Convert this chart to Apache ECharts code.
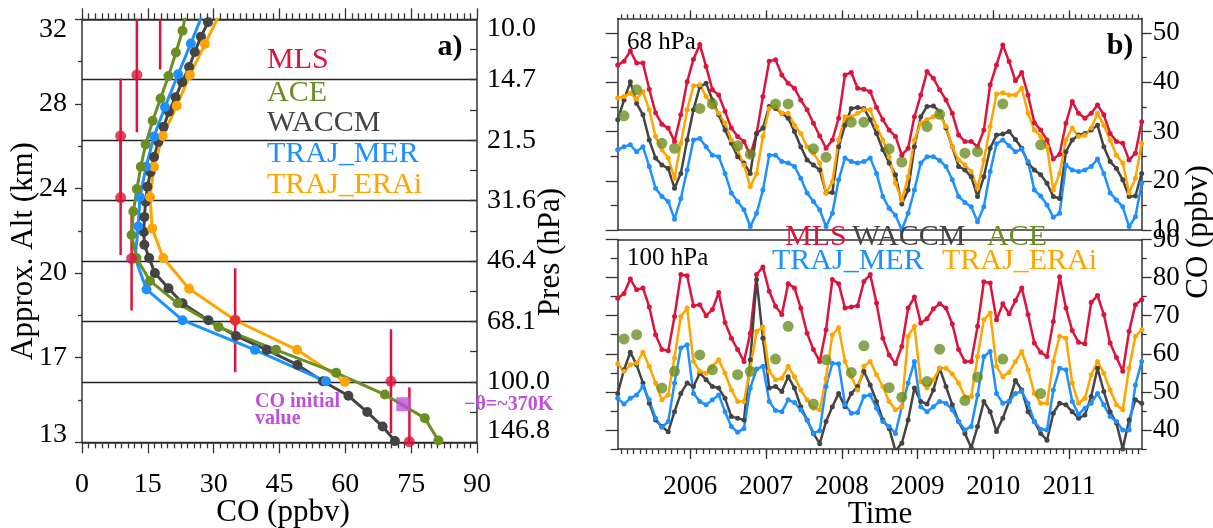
<!DOCTYPE html>
<html><head><meta charset="utf-8">
<script src="https://cdn.jsdelivr.net/npm/echarts@6/dist/echarts.min.js"></script>
<style>html,body{margin:0;padding:0;background:#fff}#c{width:1213px;height:528px}</style>
</head><body><div id="c"></div>
<script>
// ===== Panel a) : vertical profiles (y = pressure-level index, 0 = 146.8 hPa ... 7 = 10.0 hPa) =====
const presLabels = ['146.8','100.0','68.1','46.4','31.6','21.5','14.7','10.0'];
const altLabels = ['13','17','20','24','28','32'];

const mlsCO  = [74.6, 70.4, 34.9, 11.3, 8.8, 8.8, 12.5, 17.8];
const mlsLev = [0.01, 1.01, 2.02, 3.04, 4.05, 5.07, 6.08, 7.09];
const mlsErr = [0.9, 0.86, 0.86, 0.86, 0.95, 0.95, 0.95, 0.92];

const aceLev = [0.03,0.40,0.79,1.15,1.53,1.91,2.30,2.67,3.05,3.43,3.82,4.19,4.56,4.93,5.32,5.69,6.06,6.45,6.81,7.19];
const aceCO  = [81.2,78.1,69.0,57.9,44.2,31.1,21.8,15.5,12.4,11.3,11.7,12.5,13.4,14.5,16.1,17.9,19.7,21.4,22.9,23.9];

const waccmLev = [0.02,0.26,0.50,0.77,1.01,1.28,1.53,1.76,2.02,2.30,2.55,2.80,3.05,3.27,3.48,3.73,3.98,4.23,4.47,4.72,4.97,5.22,5.47,5.71,5.96,6.21,6.46,6.71,6.95,7.20];
const waccmCO  = [71.3,68.5,65.0,60.7,54.9,49.1,42.1,35.1,28.8,22.9,19.7,16.6,15.3,14.2,14.1,14.2,14.5,14.9,15.6,16.4,17.4,18.6,19.8,21.3,22.8,24.4,25.7,27.1,28.7,30.3];

const merLev = [1.01,1.53,2.02,2.53,3.05,3.57,4.06,4.56,5.06,5.55,6.09,6.60,7.11];
const merCO  = [55.6,39.4,22.9,14.7,12.1,12.8,13.2,14.6,16.4,18.9,21.9,24.8,27.6];

const eraLev = [1.00,1.53,2.02,2.54,3.05,3.54,4.06,4.56,5.07,5.57,6.08,6.59,7.09];
const eraCO  = [59.9,49.0,34.9,24.4,18.5,16.0,15.5,16.4,18.4,21.6,24.6,28.0,31.4];

const initCO = [73.2];
const initLev = [0.63];

// ===== Panel b) : monthly time series Jan 2005 - Dec 2011 =====
const yearTicks = [2006,2007,2008,2009,2010,2011];
const months = Array.from({length:84}, (_, i) => 2005 + (i + 0.5) / 12);
const monthTicks = Array.from({length:83}, (_, i) => 2005 + (i + 1) / 12);

const mls68 = [43.5,44.3,46.4,43.9,43.9,38.6,33.8,31.5,30.7,28.0,33.4,40.1,44.7,47.7,43.2,38.5,37.4,34.1,30.7,29.0,28.0,25.2,29.6,37.1,44.3,44.6,41.5,39.8,38.8,36.4,34.4,31.7,29.1,26.6,28.3,32.7,41.5,42.0,38.8,38.6,38.1,34.9,32.4,30.3,29.0,
 25.2,26.6,33.0,37.4,42.2,40.8,38.5,36.4,33.7,29.3,28.0,28.0,26.9,30.3,39.5,43.5,47.6,44.2,40.3,42.0,37.4,31.8,30.3,28.3,24.4,25.4,31.7,36.1,33.7,32.7,33.7,35.4,33.4,29.6,28.0,27.6,24.2,25.6,32.0];
const waccm68 = [32.4,36.4,40.1,35.7,33.4,28.3,24.6,23.2,22.5,18.5,21.5,28.3,34.4,39.1,39.8,36.4,33.4,30.3,27.6,24.9,23.6,21.5,29.6,30.7,35.1,34.7,33.7,32.7,30.0,26.9,24.2,23.2,22.2,17.5,17.6,26.9,31.3,34.7,34.9,34.7,32.4,29.6,26.3,23.6,21.2,
 15.3,18.1,26.9,33.0,35.1,35.2,34.1,30.7,26.9,22.9,22.2,20.8,16.8,20.8,26.6,29.3,29.5,30.0,28.4,26.6,23.6,22.2,21.2,19.5,16.8,16.4,25.9,28.3,29.3,29.6,30.3,31.3,26.9,23.9,22.5,20.2,16.8,16.9,21.5];
const mer68 = [26.3,26.9,27.3,25.9,26.9,22.9,18.5,16.8,15.8,12.2,16.4,22.2,28.3,28.6,26.9,25.2,24.9,21.5,17.5,15.8,14.1,10.7,13.4,18.1,25.2,25.2,23.9,23.6,22.9,20.5,17.5,15.8,14.1,10.7,13.4,20.2,24.6,23.9,23.6,23.9,24.6,21.5,16.8,14.4,13.0,
 10.0,13.4,18.1,23.6,24.9,24.9,24.1,22.9,20.2,16.8,15.6,14.7,11.7,14.7,21.9,27.5,28.3,27.1,25.9,26.4,23.9,18.1,16.9,15.1,12.6,13.4,23.2,22.2,21.9,22.2,22.9,24.4,21.5,17.5,16.1,14.7,10.7,12.7,19.5];
const era68 = [36.8,37.1,37.8,36.6,38.1,34.4,29.0,26.3,24.6,20.5,27.6,34.4,39.3,39.5,37.1,35.4,33.7,31.7,28.3,26.3,23.2,18.8,21.5,29.0,34.7,35.1,33.7,33.7,31.3,29.6,26.9,25.6,23.6,17.5,19.8,28.3,33.0,33.0,33.7,34.4,34.4,31.0,28.3,24.9,19.5,
 16.1,20.8,28.3,31.7,32.4,33.0,33.4,31.0,26.9,24.2,23.2,21.9,18.5,24.2,31.0,37.6,37.9,37.4,37.4,38.8,33.7,30.3,29.0,26.9,18.1,21.5,28.3,30.7,29.0,29.3,30.7,33.7,31.3,28.3,25.2,23.6,17.5,20.5,27.6];

const aceMonths = [1,3,7,9,13,15,19,21,25,27,31,33,37,39,43,45,49,51,55,57,61,67];
const ace68  = [33.2,38.5,27.6,26.6,34.7,35.6,27.1,25.4,35.6,35.6,26.5,24.8,31.9,31.9,26.5,23.8,31.0,33.5,25.6,25.9,35.6,27.3];
const ace100 = [63.9,65.0,51.0,55.4,59.7,55.8,54.5,55.4,58.6,67.2,46.8,58.4,55.1,62.1,51.1,48.6,52.7,61.2,47.7,53.9,58.6,49.6];

const mls100 = [74.6,75.8,79.6,76.8,77.3,72.3,65.0,61.1,60.8,69.8,80.8,80.5,72.6,72.9,70.0,71.6,76.1,68.2,64.1,61.1,58.0,65.4,80.8,82.8,76.4,72.5,70.3,78.4,77.3,72.0,65.4,61.1,58.0,66.3,79.5,78.4,72.0,72.3,72.6,79.0,80.8,73.3,64.1,59.7,57.4,
 61.9,72.0,74.9,68.1,69.2,71.8,73.1,72.0,67.8,61.1,58.0,58.0,67.2,78.9,78.6,68.9,73.1,70.5,74.0,77.3,70.3,62.8,60.4,59.3,68.5,80.2,72.0,66.1,63.0,62.6,73.5,75.3,70.3,62.8,59.0,55.4,65.9,72.9,74.2];
const waccm100 = [49.6,55.8,60.4,57.1,52.3,47.0,42.6,40.9,39.5,44.8,49.6,52.3,51.4,54.9,53.2,51.4,51.0,48.3,43.5,43.1,42.6,58.4,79.5,64.1,51.0,51.4,50.1,54.0,51.0,46.1,42.6,39.1,36.4,42.2,46.1,49.6,46.1,49.6,51.4,55.4,51.8,47.5,42.6,40.4,34.5,
 36.5,42.6,51.0,47.5,46.8,50.5,56.2,51.4,46.6,42.2,39.1,35.3,40.9,47.5,44.8,39.6,43.1,47.5,53.0,50.5,44.8,42.2,39.1,37.3,44.4,47.0,46.6,44.8,43.1,43.9,48.8,56.2,50.1,44.8,41.8,35.0,42.6,47.9,47.0];
const mer100 = [48.3,46.8,48.3,49.2,51.4,47.9,43.1,40.7,42.2,52.3,61.5,62.4,49.6,47.5,46.6,47.9,49.2,44.8,40.9,39.4,40.4,51.0,56.0,56.7,47.5,45.1,44.8,47.9,47.2,45.3,42.6,39.1,39.8,51.4,57.5,57.4,46.6,44.4,44.6,48.8,49.2,45.7,42.2,40.9,39.1,
 46.1,52.3,58.0,46.1,44.8,46.1,47.5,47.0,45.3,42.2,40.0,40.9,49.2,59.3,60.6,49.6,47.0,47.5,49.6,50.1,47.0,42.2,40.2,40.0,50.5,56.2,55.8,47.5,44.1,45.7,47.0,49.6,46.6,43.5,42.2,40.0,40.0,51.8,58.0];
const era100 = [57.4,55.4,57.1,57.5,60.4,56.7,52.3,47.9,49.2,58.9,69.8,72.0,58.0,55.4,54.9,56.7,58.4,54.9,50.5,47.5,47.5,56.2,65.9,67.0,55.4,53.2,53.6,56.7,54.0,50.5,47.9,45.7,45.3,53.6,65.0,66.8,58.0,54.0,50.5,56.7,58.0,54.5,51.4,47.5,45.3,
 46.1,64.6,67.2,52.7,51.0,53.2,56.2,56.2,54.7,52.3,48.8,48.8,59.3,68.9,70.7,56.7,54.0,55.1,58.0,60.6,55.8,49.6,47.0,47.0,58.0,64.6,64.1,52.3,47.0,48.3,54.5,58.0,54.9,50.5,46.6,45.3,56.2,64.6,66.3];

const top68Major = [10,20,30,40,50], top68Minor = [15,25,35,45];
const bot100Major = [40,50,60,70,80,90], bot100Minor = [35,45,55,65,75,85];

// ===== styling =====
const F = '"Liberation Serif","Times New Roman",serif';
const C = {mls:'#DC143C', ace:'#6B8E23', waccm:'#444444', mer:'#1E90FF', era:'#FFA500', init:'#BF4FDC'};
const AXL = {show:true, onZero:false, lineStyle:{color:'#333', width:1.5}};
const NOL = {show:false, onZero:false}, NOS = {show:false};
const TL = {color:'#333', width:1.3};
const TK = (len, extra) => Object.assign({show:true, length:len, lineStyle:TL}, extra || {});
const LAB = (extra) => Object.assign({fontFamily:F, fontSize:27, color:'#000'}, extra || {});
const T0 = 2005 + 0.5/12, T1 = 2011 + 11.5/12;

const pairs = (xs, ys) => xs.map((x, i) => [x, ys[i]]);
function prof(name, co, lev, color){
  return {type:'line', name, xAxisIndex:0, yAxisIndex:0, data:pairs(co, lev), symbol:'circle', symbolSize:10,
    showAllSymbol:true, lineStyle:{color, width:3}, itemStyle:{color}, clip:true, z:3};
}
function ts(vals, color, xi, yi){
  return {type:'line', xAxisIndex:xi, yAxisIndex:yi, data:pairs(months, vals), symbol:'circle', symbolSize:5,
    showAllSymbol:true, lineStyle:{color, width:2.5}, itemStyle:{color}, clip:true, z:3};
}
function aceDots(vals, xi, yi){
  return {type:'scatter', xAxisIndex:xi, yAxisIndex:yi, data:aceMonths.map((m, i) => [months[m], vals[i]]),
    symbol:'circle', symbolSize:11, itemStyle:{color:C.ace}, z:4};
}

const grids = [
  {left:82, top:19.3, width:395, height:423},
  {left:617.7, top:18.3, width:524, height:211.7},
  {left:617.7, top:18.3, width:524, height:211.7},
  {left:617.7, top:239.5, width:524, height:209.5},
  {left:617.7, top:239.5, width:524, height:209.5}
].map(g => Object.assign({containLabel:false, outerBoundsMode:'none'}, g));

const coMinor = {show:true, splitNumber:10, length:6, lineStyle:TL};

const option = {
  animation:false,
  backgroundColor:'#fff',
  grid:grids,
  xAxis:[
    {gridIndex:0, type:'value', position:'bottom', min:0, max:90, interval:15, axisLine:AXL, axisTick:TK(11), minorTick:coMinor,
      axisLabel:LAB({fontSize:28, margin:28}), splitLine:NOS},
    {gridIndex:0, type:'value', position:'top', min:0, max:90, interval:15, axisLine:AXL, axisTick:TK(11), minorTick:coMinor,
      axisLabel:{show:false}, splitLine:NOS},
    {gridIndex:1, type:'value', position:'top', min:T0, max:T1, axisLine:AXL, axisTick:TK(8, {customValues:yearTicks}), axisLabel:{show:false}, splitLine:NOS},
    {gridIndex:1, type:'value', position:'bottom', min:T0, max:T1, axisLine:AXL, axisTick:NOS, axisLabel:{show:false}, splitLine:NOS},
    {gridIndex:2, type:'value', position:'top', min:T0, max:T1, axisLine:NOL, axisTick:TK(4, {customValues:monthTicks}), axisLabel:{show:false}, splitLine:NOS},
    {gridIndex:3, type:'value', position:'bottom', min:T0, max:T1, axisLine:AXL, axisTick:TK(10, {customValues:yearTicks}),
      axisLabel:LAB({margin:24, customValues:yearTicks, formatter:v => String(Math.round(v))}), splitLine:NOS},
    {gridIndex:3, type:'value', position:'top', min:T0, max:T1, axisLine:AXL, axisTick:NOS, axisLabel:{show:false}, splitLine:NOS},
    {gridIndex:4, type:'value', position:'bottom', min:T0, max:T1, axisLine:NOL, axisTick:TK(5, {customValues:monthTicks}), axisLabel:{show:false}, splitLine:NOS}
  ],
  yAxis:[
    {gridIndex:0, type:'value', position:'left', min:0, max:7, interval:1.4, axisLine:AXL, axisTick:TK(7),
      minorTick:{show:true, splitNumber:2, length:4, lineStyle:TL},
      axisLabel:LAB({fontSize:28, margin:15, formatter:v => {
        const k = Math.round(v/1.4);
        if (k === altLabels.length - 1) return '{t|' + altLabels[k] + '}';
        if (k === 0) return '{b|' + altLabels[k] + '}';
        return altLabels[k];
      }, rich:{t:{padding:[21,0,0,0], fontFamily:F, fontSize:28}, b:{padding:[0,0,16,0], fontFamily:F, fontSize:28}}}),
      splitLine:NOS},
    {gridIndex:0, type:'value', position:'right', min:0, max:7, interval:1, axisLine:AXL, axisTick:TK(7, {inside:true}),
      minorTick:{show:true, splitNumber:2, length:7, lineStyle:TL},
      axisLabel:LAB({fontSize:28, margin:10, formatter:v => {
        const k = Math.round(v);
        if (k === 7) return '{t|' + presLabels[k] + '}';
        if (k === 0) return '{b|' + presLabels[k] + '}';
        return presLabels[k];
      }, rich:{t:{padding:[18,0,0,0], fontFamily:F, fontSize:28}, b:{padding:[0,0,24,0], fontFamily:F, fontSize:28}}}),
      splitLine:{show:true, lineStyle:{color:'#222', width:1.3}}},
    {gridIndex:1, type:'value', position:'left', min:10, max:53, axisLine:AXL, axisTick:TK(7, {customValues:top68Minor}), axisLabel:{show:false}, splitLine:NOS},
    {gridIndex:1, type:'value', position:'right', min:10, max:53, axisLine:AXL, axisTick:TK(5, {customValues:top68Minor}), axisLabel:{show:false}, splitLine:NOS},
    {gridIndex:2, type:'value', position:'left', min:10, max:53, axisLine:NOL, axisTick:TK(12, {customValues:top68Major}), axisLabel:{show:false}, splitLine:NOS},
    {gridIndex:2, type:'value', position:'right', min:10, max:53, axisLine:NOL, axisTick:TK(10, {customValues:top68Major}),
      axisLabel:LAB({margin:11, customValues:top68Major}), splitLine:NOS},
    {gridIndex:3, type:'value', position:'left', min:35, max:90, axisLine:AXL, axisTick:TK(7, {customValues:bot100Minor}), axisLabel:{show:false}, splitLine:NOS},
    {gridIndex:3, type:'value', position:'right', min:35, max:90, axisLine:AXL, axisTick:TK(5, {customValues:bot100Minor}), axisLabel:{show:false}, splitLine:NOS},
    {gridIndex:4, type:'value', position:'left', min:35, max:90, axisLine:NOL, axisTick:TK(12, {customValues:bot100Major}), axisLabel:{show:false}, splitLine:NOS},
    {gridIndex:4, type:'value', position:'right', min:35, max:90, axisLine:NOL, axisTick:TK(10, {customValues:bot100Major}),
      axisLabel:LAB({margin:11, customValues:bot100Major}), splitLine:NOS}
  ],
  series:[
    // panel a
    {type:'custom', xAxisIndex:0, yAxisIndex:0, z:3,
      data:mlsCO.map((c, i) => [c, mlsLev[i], mlsErr[i]]),
      renderItem:(params, api) => {
        const x = api.value(0), y = api.value(1), e = api.value(2);
        const lo = Math.max(0, y - e), hi = Math.min(7, y + e);
        const p1 = api.coord([x, lo]), p2 = api.coord([x, hi]);
        return {type:'line', shape:{x1:p1[0], y1:p1[1], x2:p2[0], y2:p2[1]}, style:{stroke:C.mls, lineWidth:2.5}};
      }},
    prof('WACCM', waccmCO, waccmLev, C.waccm),
    prof('TRAJ_ERAi', eraCO, eraLev, C.era),
    prof('TRAJ_MER', merCO, merLev, C.mer),
    {type:'scatter', xAxisIndex:0, yAxisIndex:0, data:pairs(mlsCO, mlsLev), symbol:'circle', symbolSize:11, itemStyle:{color:C.mls}, z:4},
    prof('ACE', aceCO, aceLev, C.ace),
    {type:'scatter', xAxisIndex:0, yAxisIndex:0, data:pairs(initCO, initLev), symbol:'rect', symbolSize:14, itemStyle:{color:C.init}, z:6},
    // panel b, 68 hPa
    ts(mls68, C.mls, 2, 2),
    ts(waccm68, C.waccm, 2, 2),
    ts(mer68, C.mer, 2, 2),
    ts(era68, C.era, 2, 2),
    aceDots(ace68, 2, 2),
    // panel b, 100 hPa
    ts(mls100, C.mls, 5, 6),
    ts(waccm100, C.waccm, 5, 6),
    ts(mer100, C.mer, 5, 6),
    ts(era100, C.era, 5, 6),
    aceDots(ace100, 5, 6)
  ],
  graphic:{elements:[]}
};

function txt(x, y, text, color, size, opts){
  opts = opts || {};
  const align = opts.align || 'left';
  return {type:'text', x, y, rotation:opts.rot || 0, z:100, silent:true,
    style:{text, fill:color, font:(opts.bold ? 'bold ' : '') + size + 'px ' + F,
      align, verticalAlign:'middle', textAlign:align, textVerticalAlign:'middle'}};
}
const G = option.graphic.elements;
// panel a legend & labels
G.push(txt(267, 60, 'MLS', C.mls, 30));
G.push(txt(267, 93, 'ACE', C.ace, 30));
G.push(txt(267, 123, 'WACCM', C.waccm, 30));
G.push(txt(267, 154, 'TRAJ_MER', C.mer, 30));
G.push(txt(267, 185, 'TRAJ_ERAi', C.era, 30));
G.push(txt(450, 47, 'a)', '#000', 30, {bold:true, align:'center'}));
G.push(txt(255, 402, 'CO initial', C.init, 20, {bold:true}));
G.push(txt(255, 419, 'value', C.init, 20, {bold:true}));
G.push(txt(464, 405, '\u2212\u03B8=~370K', C.init, 20, {bold:true}));
G.push(txt(24, 251, 'Approx. Alt (km)', '#000', 31, {align:'center', rot:Math.PI/2}));
G.push(txt(551, 252, 'Pres (hPa)', '#000', 31, {align:'center', rot:Math.PI/2}));
G.push(txt(283, 513, 'CO (ppbv)', '#000', 31, {align:'center'}));
// panel b labels
G.push(txt(1120, 46, 'b)', '#000', 30, {bold:true, align:'center'}));
G.push(txt(627, 42, '68 hPa', '#000', 25));
G.push(txt(627, 258, '100 hPa', '#000', 25));
G.push(txt(785, 237, 'MLS', C.mls, 30));
G.push(txt(852, 237, 'WACCM', C.waccm, 30));
G.push(txt(987, 237, 'ACE', C.ace, 30));
G.push(txt(772, 261, 'TRAJ_MER', C.mer, 30));
G.push(txt(942, 261, 'TRAJ_ERAi', C.era, 30));
G.push(txt(880, 515, 'Time', '#000', 31, {align:'center'}));
G.push(txt(1199, 232, 'CO (ppbv)', '#000', 31, {align:'center', rot:Math.PI/2}));

const chart = echarts.init(document.getElementById('c'), null, {renderer:'canvas', width:1213, height:528});
chart.setOption(option);
</script>
</body></html>
